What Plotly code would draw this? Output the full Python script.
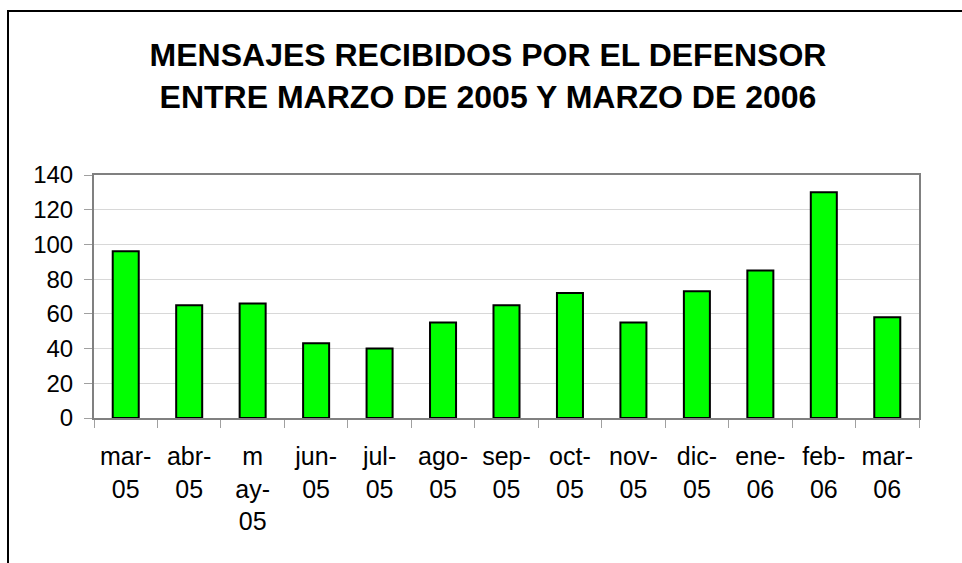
import plotly.graph_objects as go

# Monthly messages received, March 2005 - March 2006
months = ["mar-05", "abr-05", "may-05", "jun-05", "jul-05", "ago-05", "sep-05",
          "oct-05", "nov-05", "dic-05", "ene-06", "feb-06", "mar-06"]
messages = [96, 65, 66, 43, 40, 55, 65, 72, 55, 73, 85, 130, 58]
month_labels = ["mar-<br>05", "abr-<br>05", "m<br>ay-<br>05", "jun-<br>05", "jul-<br>05",
                "ago-<br>05", "sep-<br>05", "oct-<br>05", "nov-<br>05", "dic-<br>05",
                "ene-<br>06", "feb-<br>06", "mar-<br>06"]
y_ticks = [0, 20, 40, 60, 80, 100, 120, 140]

W, H = 962, 563
L, R, T, B = 94, 43, 175, 145
pw, ph = W - L - R, H - T - B

font = "Liberation Sans, Arial, sans-serif"

fig = go.Figure(go.Bar(
    x=months,
    y=messages,
    marker=dict(color="#00ff00", line=dict(color="#000000", width=2)),
    hoverinfo="x+y",
))

fig.update_layout(
    width=W, height=H,
    margin=dict(l=L, r=R, t=T, b=B),
    paper_bgcolor="white",
    plot_bgcolor="white",
    bargap=0.59,
    showlegend=False,
    title=dict(
        text="MENSAJES RECIBIDOS POR EL DEFENSOR<br>ENTRE MARZO DE 2005 Y MARZO DE 2006",
        x=488 / W, xanchor="center", xref="container",
        y=1 - 66 / H, yanchor="middle", yref="container",
        font=dict(family=font, size=32, color="black", weight="bold"),
    ),
    font=dict(family=font, color="black"),
)

fig.update_xaxes(
    tickmode="array", tickvals=months, ticktext=month_labels,
    tickfont=dict(size=25, color="black"),
    tickson="boundaries", ticks="outside", ticklen=8, tickcolor="#a0a0a0", tickwidth=1,
    ticklabelstandoff=15,
    showline=True, linecolor="#808080", linewidth=2, mirror=True,
    showgrid=False, zeroline=False,
)

fig.update_yaxes(
    range=[0, 140], tickmode="array", tickvals=y_ticks,
    tickfont=dict(size=24, color="black"),
    ticks="outside", ticklen=8, tickcolor="#a0a0a0", tickwidth=1,
    ticklabelstandoff=6,
    showline=True, linecolor="#808080", linewidth=2, mirror=True,
    showgrid=True, gridcolor="#d8d8d8", gridwidth=1,
    zeroline=False,
)

# Outer chart frame (extends past the right and bottom edges of the page)
fig.add_shape(
    type="rect", xref="paper", yref="paper",
    x0=(8 - L) / pw, x1=(1000 - L) / pw,
    y0=-(620 - (H - B)) / ph, y1=((H - B) - 11) / ph,
    line=dict(color="black", width=2), fillcolor="rgba(0,0,0,0)", layer="above",
)

fig.write_html("out.html")
